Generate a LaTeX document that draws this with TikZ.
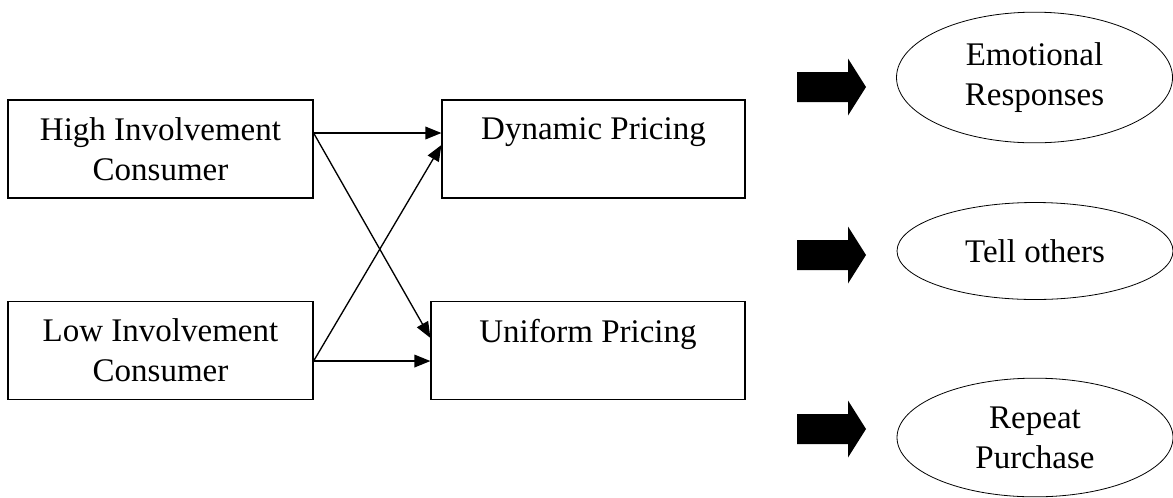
\documentclass[tikz,border=0pt]{standalone}
\usepackage{fontspec}
\setmainfont{Liberation Serif}
\usetikzlibrary{shapes.geometric, arrows.meta, positioning}

\begin{document}
\begin{tikzpicture}[
    x=0.75pt, y=-0.75pt,
    every node/.style={font=\fontsize{24.75}{30}\selectfont},
    box/.style={rectangle, draw, line width=0.9pt, inner sep=0pt, align=center, minimum height=73.5pt},
    oval/.style={ellipse, draw, line width=0.6pt, inner sep=0pt, align=center, minimum width=207pt},
    conn/.style={line width=1pt, -{Triangle[length=12pt, width=9.5pt]}},
    fatarrow/.pic={\fill (0,-15) -- (51,-15) -- (51,-28.5) -- (69,0) -- (51,28.5) -- (51,15) -- (0,15) -- cycle;}
]

\useasboundingbox (0,0) rectangle (1173,497);

% Consumers

\node[box, minimum width=228.75pt] (high) at (160.5,149) {High Involvement\\Consumer};

\node[box, minimum width=228.75pt] (low) at (160.5,350.5) {Low Involvement\\Consumer};

% Pricing

\node[box, minimum width=227.25pt] (dynamic) at (593.5,149) {Dynamic Pricing\\~};

\node[box, minimum width=235.5pt] (uniform) at (588,350.5) {Uniform Pricing\\~};

\draw[conn] ([yshift=12pt]high.east) -- ([yshift=12pt]dynamic.west);
\draw[conn] ([yshift=12pt]high.east) -- ([yshift=9.4pt]uniform.west);
\draw[conn] ([yshift=-7.9pt]low.east) -- ([yshift=3pt]dynamic.west);
\draw[conn] ([yshift=-7.9pt]low.east) -- ([yshift=-7.9pt]uniform.west);

% Outcomes

\pic at (797,87) {fatarrow};
\node[oval, minimum height=98pt] (emotional) at (1034.5,77.5) {Emotional\\Responses};

\pic at (797,255) {fatarrow};
\node[oval, minimum height=72.75pt] (tell) at (1035,251) {Tell others};

\pic at (797,429) {fatarrow};
\node[oval, minimum height=89pt] (repeat) at (1035,437.5) {Repeat\\Purchase};

\end{tikzpicture}
\end{document}
